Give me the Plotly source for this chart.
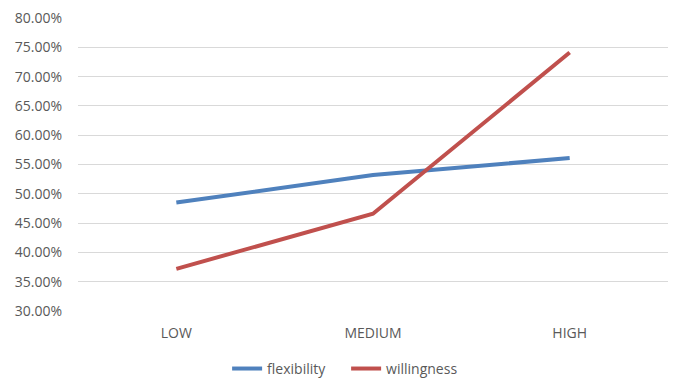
import plotly.graph_objects as go

categories = ["LOW", "MEDIUM", "HIGH"]
flexibility = [0.485, 0.532, 0.561]
willingness = [0.372, 0.466, 0.741]
y_ticks = [0.30, 0.35, 0.40, 0.45, 0.50, 0.55, 0.60, 0.65, 0.70, 0.75, 0.80]

fig = go.Figure()
fig.add_trace(go.Scatter(x=categories, y=flexibility, mode="lines", name="flexibility",
                         line=dict(color="#4F81BD", width=4)))
fig.add_trace(go.Scatter(x=categories, y=willingness, mode="lines", name="willingness",
                         line=dict(color="#C0504D", width=4)))

fig.update_layout(
    width=676, height=378,
    margin=dict(l=78, r=8, t=18, b=67, autoexpand=False),
    paper_bgcolor="white", plot_bgcolor="white",
    font=dict(family="Open Sans, Liberation Sans, sans-serif", size=14, color="#595959"),
    showlegend=True,
    legend=dict(orientation="h", x=0.512, xanchor="center", xref="container",
                y=0.024, yanchor="middle", yref="container", entrywidth=74,
                font=dict(size=14, color="#595959"), itemwidth=30, tracegroupgap=0),
)
fig.update_xaxes(
    type="category", range=[-0.5, 2.5], showgrid=False, zeroline=False,
    showline=False, ticks="", ticklabelstandoff=12, tickfont=dict(size=14, color="#595959"),
)
fig.update_yaxes(
    range=[0.30, 0.80], tickvals=y_ticks, tickformat=".2%",
    showgrid=True, gridcolor="#D9D9D9", gridwidth=1.3, zeroline=False,
    showline=False, ticks="", ticklabelstandoff=15, tickfont=dict(size=14, color="#595959"),
)

fig.write_html("out.html")
